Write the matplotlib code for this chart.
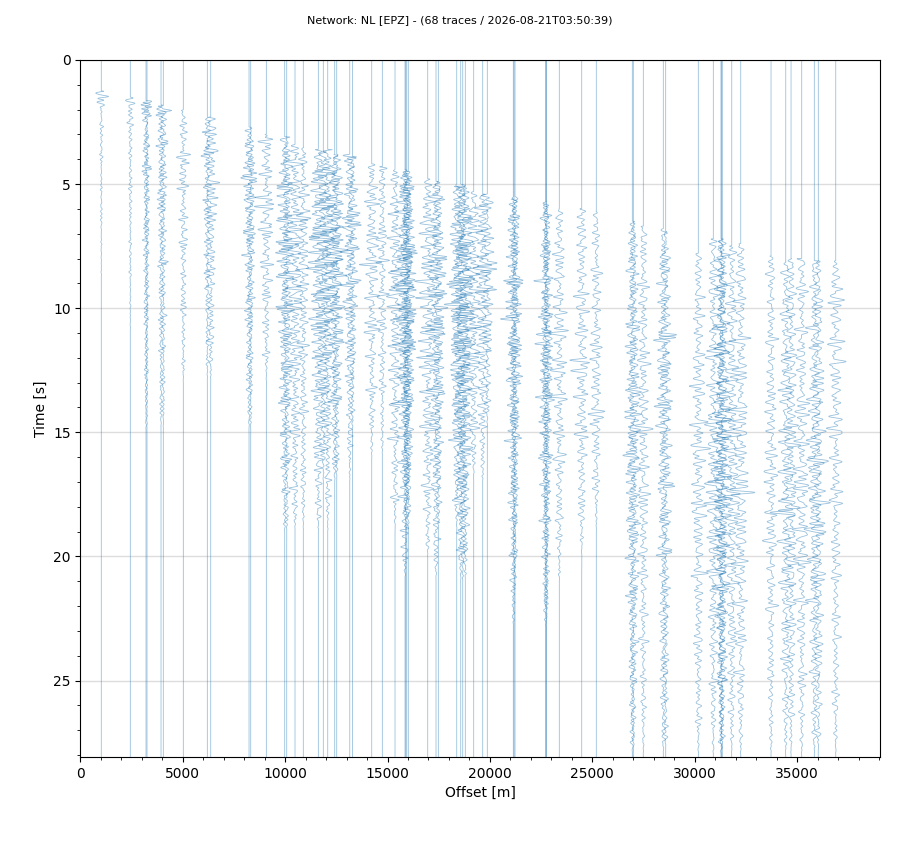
import numpy as np
import matplotlib
matplotlib.use("Agg")
import matplotlib.pyplot as plt
from matplotlib.ticker import MultipleLocator

# ---- data ----
TITLE = "Network: NL [EPZ] - (68 traces / 2026-08-21T03:50:39)"

# trace offsets [m]
OFFSETS = [1025, 2442, 3208, 3256, 3941, 4053, 5030, 6202, 6367, 8238,
           8319, 9084, 9979, 10078, 10483, 10889, 11623, 11865, 12080, 12421,
           12519, 13156, 13286, 14228, 14747, 15366, 15855, 15937, 16016, 16962,
           17368, 17481, 18379, 18574, 18672, 18799, 19207, 19647, 19873, 21143,
           21225, 22724, 23389, 24482, 25195, 26954, 27003, 27491, 28467, 28581,
           30176, 30908, 31284, 31348, 31807, 32246, 33726, 34444, 34703, 35224,
           35840, 36035, 36885, 21180, 22740, 22760, 31300, 15890]
# first-arrival time [s]
ONSETS = [1.25, 1.50, 1.65, 1.70, 1.80, 1.85, 2.00, 2.30, 2.30, 2.70,
          2.80, 3.00, 3.10, 3.20, 3.40, 3.50, 3.60, 3.70, 3.60, 3.80,
          3.80, 3.80, 3.90, 4.20, 4.30, 4.40, 4.40, 4.50, 4.50, 4.80,
          4.90, 4.90, 5.00, 5.00, 5.10, 5.10, 5.30, 5.40, 5.40, 5.50,
          5.50, 5.70, 6.00, 6.00, 6.10, 6.50, 6.60, 6.70, 6.80, 6.90,
          7.80, 7.20, 7.20, 7.30, 7.50, 7.40, 7.90, 8.10, 8.00, 8.00,
          8.10, 8.10, 8.10, 5.60, 5.80, 5.80, 7.30, 4.50]
# first-arrival burst half-width [px of deflection]
BURST = [6, 6, 6, 4, 6, 5, 4, 3, 4, 3,
         3, 3, 3, 3, 3, 3, 4, 4, 4, 4,
         4, 4, 4, 4, 4, 4, 4, 4, 4, 4,
         4, 4, 4, 5, 5, 5, 4, 4, 4, 4,
         3, 4, 3, 3, 3, 4, 3, 3, 3, 3,
         3, 3, 3, 3, 3, 3, 3, 3, 3, 3,
         3, 3, 4, 3, 3, 3, 3, 3]
# coda half-width [px of deflection]
CODA = [1.0, 1.5, 3, 2, 3, 3, 4, 3, 6, 5,
        4, 6, 6, 6, 7, 5, 8, 8, 6, 7,
        6, 6, 5, 6, 4, 6, 8, 7, 6, 8,
        7, 6, 7, 8, 8, 7, 7, 7, 6, 6,
        5, 6, 6, 6, 5, 6, 5, 5, 6, 5,
        6, 6, 7, 6, 6, 7, 5, 6, 6, 6,
        6, 6, 6, 4, 4, 4, 5, 5]
# time of strongest coda [s]
CODA_PEAK = [3, 3, 3.5, 4, 3, 3, 3.5, 3.8, 3.8, 4.5,
             4.5, 5.5, 7, 7, 7, 7, 7.5, 7.5, 7, 7,
             7, 7, 7, 7.5, 8, 9, 9, 9, 9, 9,
             9, 9, 10, 10, 10, 10, 9, 9, 8, 10,
             10, 12, 12, 13, 14, 15, 15, 14, 12, 12,
             16, 17, 17, 17, 17, 17, 17, 18, 18, 18,
             18, 18, 10, 10, 12, 12, 17, 9]
# time at which the wiggles die out [s]
CODA_END = [8, 10, 14, 14, 14, 14, 12, 12, 12, 14,
            14, 12, 18, 18, 18, 18, 18, 16, 18, 16,
            16, 16, 14, 15, 15, 18, 20, 18, 18, 19,
            20, 18, 18, 20, 20, 20, 16, 16, 14, 22,
            20, 22, 20, 19, 18, 27, 27, 27, 27, 27,
            27, 27, 27, 27, 27, 27, 27, 27, 27, 27,
            27, 27, 27, 20, 22, 22, 27, 18]

# ---- figure ----
fig = plt.figure(figsize=(9.2, 8.6), dpi=100)
ax = fig.add_axes([0.0873, 0.1198, 0.8693, 0.8105])

PX_TO_M = 48.8          # one pixel of deflection in offset metres
T_MAX = 28.08
t = np.arange(0.0, T_MAX + 0.2, 0.015)

FREQS = [2.7, 3.9, 5.3, 6.8, 1.9, 4.6]
WEIGHTS = [1.0, 0.8, 0.6, 0.4, 0.5, 0.7]

for i, (off, t0, ap, ac, tc, te) in enumerate(zip(OFFSETS, ONSETS, BURST, CODA,
                                                   CODA_PEAK, CODA_END)):
    after = t >= t0
    burst = np.where(after, ap * np.exp(-(t - t0) / 0.8), 0.0)
    rise = 0.5 * ac + 0.5 * ac * np.clip((t - t0) / max(tc - t0, 0.3), 0, 1)
    fall = ac - 0.7 * ac * np.clip((t - tc) / max(te - tc, 0.5), 0, 1)
    coda = np.where(t < tc, rise, fall)
    coda = np.where(after, coda, 0.0)
    coda = coda * np.clip(1.0 - (t - te) / 1.0, 0, 1)
    env = np.maximum(burst, coda)
    # deterministic oscillation carrying the envelope
    fscale = 1.25 - 0.35 * off / 37000.0
    mod = (0.75 + 0.2 * np.sin(2 * np.pi * 0.37 * t + 1.7 * i)
           + 0.15 * np.sin(2 * np.pi * 0.83 * t + 0.9 * i))
    car = np.zeros_like(t)
    for k, (f, w) in enumerate(zip(FREQS, WEIGHTS)):
        car += w * np.sin(2 * np.pi * f * fscale * t + (k + 1.3) * (i + 0.7) * 1.37)
    car /= 1.4
    x = off + PX_TO_M * env * mod * car
    ax.plot(x, t, color="#1f77b4", alpha=0.45, lw=0.6)

ax.set_xlim(0, 39050)
ax.set_ylim(T_MAX, 0)
ax.xaxis.set_major_locator(MultipleLocator(5000))
ax.xaxis.set_minor_locator(MultipleLocator(1000))
ax.yaxis.set_major_locator(MultipleLocator(5))
ax.yaxis.set_minor_locator(MultipleLocator(1))
ax.grid(True, axis="y", which="major", color="#dddddd", lw=1)
ax.set_axisbelow(True)
ax.set_xlabel("Offset [m]")
ax.set_ylabel("Time [s]")
fig.suptitle(TITLE, fontsize=8, y=0.982, va="top")

fig.savefig("out.png", dpi=100)
